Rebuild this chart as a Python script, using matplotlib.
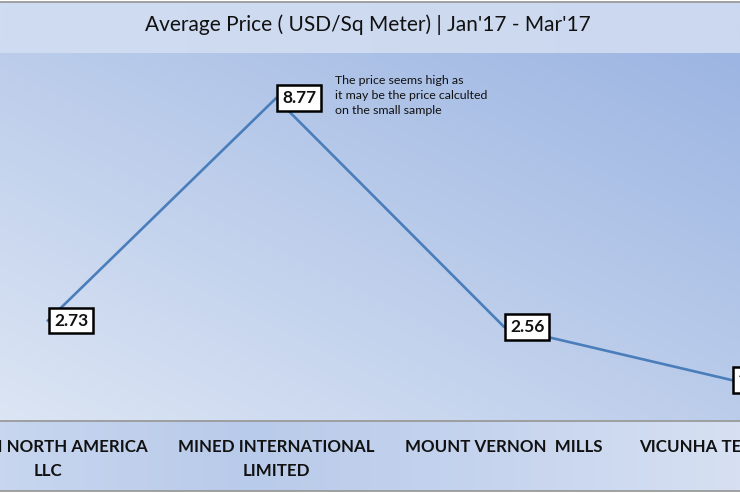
import numpy as np
import matplotlib
matplotlib.use("Agg")
import matplotlib.pyplot as plt
from matplotlib.colors import LinearSegmentedColormap

# ---- data ----
categories = ["NAVIN NORTH AMERICA\nLLC", "MINED INTERNATIONAL\nLIMITED",
              "MOUNT VERNON  MILLS", "VICUNHA TEXTIL LTDA"]
prices = [2.73, 8.77, 2.56, 1.11]
value_labels = ["2.73", "8.77", "2.56", "1.11"]
title = "Average Price ( USD/Sq Meter) | Jan'17 - Mar'17"
note = "The price seems high as\nit may be the price calculted\non the small sample"

W, H = 740, 493
fig = plt.figure(figsize=(W / 100, H / 100), dpi=100)
FONT = "Lato"

# ---- background bands (pixel coordinates) ----
bg = fig.add_axes([0, 0, 1, 1])
bg.set_xlim(0, W)
bg.set_ylim(H, 0)
bg.axis("off")

def grad(x0, x1, y0, y1, c_light, c_dark, mode="diag"):
    nx, ny = 200, 100
    xx, yy = np.meshgrid(np.linspace(0, 1, nx), np.linspace(0, 1, ny))
    if mode == "diag":
        t = (xx + (1 - yy)) / 2.0
    else:
        t = xx
    cmap = LinearSegmentedColormap.from_list("g", [c_light, c_dark])
    bg.imshow(t, cmap=cmap, extent=(x0, x1, y1, y0), aspect="auto",
              interpolation="bilinear", vmin=0, vmax=1, zorder=0)

bg.add_patch(plt.Rectangle((0, 0), W, H, color="#ffffff", zorder=-1))
grad(0, W, 2, 53, "#d0dcf1", "#cbd8ef", mode="h")
grad(0, W, 53, 421, "#dce5f4", "#9cb5e2", mode="diag")
cm3 = LinearSegmentedColormap.from_list("g3", ["#c8d6ef", "#b9cbea", "#c6d4ee", "#d6e0f2"])
xx3 = np.tile(np.linspace(0, 1, 200), (20, 1))
bg.imshow(xx3, cmap=cm3, extent=(0, W, 491, 421), aspect="auto", zorder=0,
          vmin=0, vmax=1)
for yl in (1.5, 421, 491):
    bg.plot([0, W], [yl, yl], color="#9a9a9a", lw=1.3, zorder=2)

fig.text(368 / W, 1 - 25 / H, title, ha="center", va="center",
         fontsize=15, family=FONT, color="#111111")

# ---- main axes ----
ax = fig.add_axes([0, 1 - 421 / H, 1, 368 / H])
ax.patch.set_alpha(0)
x = np.arange(len(categories))
ax.plot(x, prices, color="#4a7ebb", lw=1.9, solid_joinstyle="miter", zorder=3)
ax.set_xlim(-0.21, 3.035)
ax.set_ylim(0, 10)
for s in ax.spines.values():
    s.set_visible(False)
ax.set_yticks([])
ax.set_xticks(x)
ax.set_xticklabels(categories, fontsize=12.2, fontweight="bold", family=FONT,
                   color="#111111", linespacing=1.6)
ax.tick_params(axis="x", length=0, pad=13)

for xi, yi, lab in zip(x, prices, value_labels):
    ax.annotate(lab, (xi, yi), xytext=(6, 0), textcoords="offset pixels",
                ha="left", va="center", fontsize=12.5, fontweight="bold",
                family=FONT, color="#111111", zorder=5,
                bbox=dict(boxstyle="square,pad=0.28", fc="white", ec="black", lw=1.8))

ax.annotate(note, (1, prices[1]), xytext=(59, 23), textcoords="offset pixels",
            ha="left", va="top", fontsize=8.9, family=FONT, color="#111111",
            linespacing=1.45)

fig.savefig("out.png", dpi=100)
